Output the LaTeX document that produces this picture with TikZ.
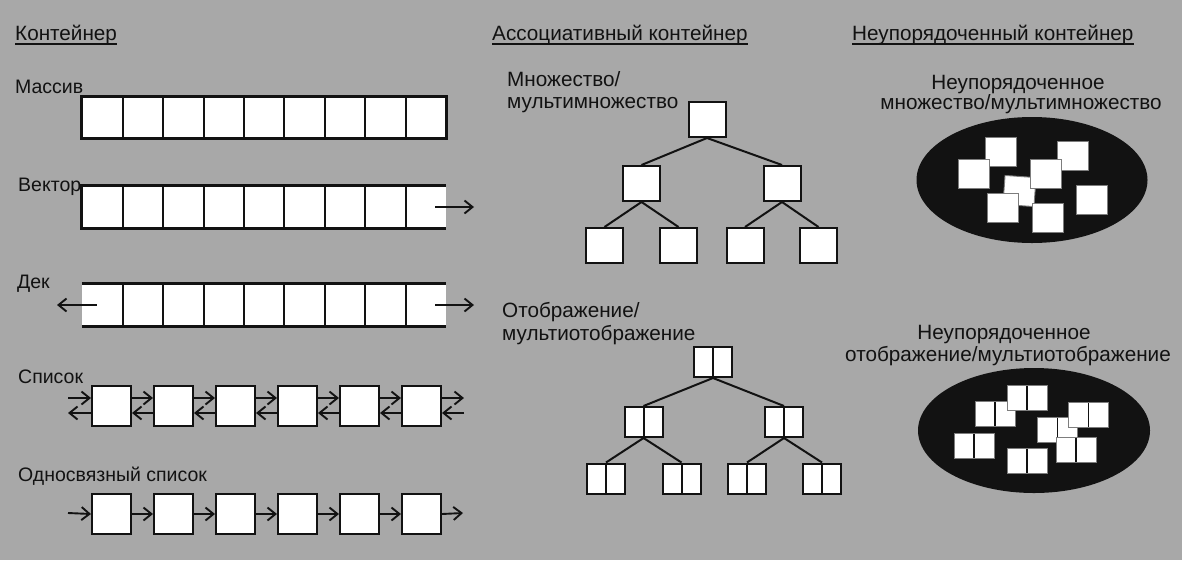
\documentclass[tikz,border=0pt]{standalone}
\usepackage{fontspec}
\setmainfont{Liberation Sans}
\usetikzlibrary{arrows.meta}
\definecolor{bg}{RGB}{168,168,168}
\definecolor{ink}{RGB}{18,18,18}
\tikzset{
  lbl/.style={inner sep=0pt, anchor=base west, text=ink, font=\fontsize{19.5}{22}\selectfont},
  blbl/.style={inner sep=0pt, anchor=base west, text=ink, font=\fontsize{20.7}{24}\selectfont},
  clbl/.style={inner sep=0pt, anchor=base, text=ink, font=\fontsize{20.7}{24}\selectfont},
  ulin/.style={line width=1.5pt, draw=ink},
  cell/.style={fill=white, inner sep=0pt, minimum width=40.44pt, minimum height=41pt},
  thickline/.style={line width=3.2pt, draw=ink},
  thinline/.style={line width=2pt, draw=ink},
  lbox/.style={draw=ink, line width=2pt, fill=white, inner sep=0pt, minimum width=39pt, minimum height=40pt},
  arr/.style={line width=1.9pt, draw=ink, -{Straight Barb[length=8pt,width=13pt]}},
  tbox/.style={draw=ink, line width=2pt, fill=white, inner sep=0pt, minimum width=37pt, minimum height=35pt},
  dbox/.style={draw=ink, line width=2pt, fill=white, inner sep=0pt, minimum width=38pt, minimum height=30pt,
    path picture={\draw[line width=2pt, ink] (path picture bounding box.north) -- (path picture bounding box.south);}},
  edge/.style={line width=2pt, draw=ink},
  usq/.style={draw=ink!55, line width=0.9pt, fill=white, inner sep=0pt, minimum width=31pt, minimum height=29pt},
  dsq/.style={draw=ink!55, line width=0.9pt, fill=white, inner sep=0pt, minimum width=40pt, minimum height=25pt,
    path picture={\draw[line width=1.8pt, ink] (path picture bounding box.north) -- (path picture bounding box.south);}},
}
\begin{document}
\begin{tikzpicture}[x=1pt, y=-1pt]
\useasboundingbox (0,0) rectangle (1182,560);
\fill[bg] (0,0) rectangle (1182,560);

% ---------- headings ----------
\node[blbl] (h1) at (15,40) {Контейнер};
\node[blbl] (h2) at (492,40) {Ассоциативный контейнер};
\node[blbl] (h3) at (852,40) {Неупорядоченный контейнер};
\foreach \h in {h1,h2,h3}
  \draw[ulin] ([yshift=-4pt]\h.base west) -- ([yshift=-4pt]\h.base east);

% ---------- left column labels ----------
\node[lbl] (tmas) at (15,93) {Массив};
\node[lbl] (tvec) at (18,191) {Вектор};
\node[lbl] (tdek) at (17,288) {Дек};
\node[lbl] (tlst) at (18,383) {Список};
\node[lbl] (tslst) at (18,481) {Односвязный список};

% ---------- arrays ----------
\foreach \i in {1,...,9} {
  \node[cell] (a\i) at ({82+40.44*(\i-0.5)},117.5) {};
  \node[cell, minimum height=42pt] (v\i) at ({82+40.44*(\i-0.5)},207) {};
  \node[cell, minimum height=42pt] (d\i) at ({82+40.44*(\i-0.5)},305) {};
}
\foreach \i in {1,...,8} {
  \draw[thinline] (a\i.north east) -- (a\i.south east);
  \draw[thinline] (v\i.north east) -- (v\i.south east);
  \draw[thinline] (d\i.north east) -- (d\i.south east);
}
\draw[thickline] (a1.north west) rectangle (a9.south east);
\draw[thickline] (v9.north east) -- (v1.north west) -- (v1.south west) -- (v9.south east);
\draw[thickline] (d1.north west) -- (d9.north east);
\draw[thickline] (d1.south west) -- (d9.south east);

\coordinate (vout) at (474,207);
\coordinate (dout) at (474,305);
\coordinate (din) at (57,305);
\draw[arr] ([xshift=-11pt]v9.east) -- (vout);
\draw[arr] ([xshift=-11pt]d9.east) -- (dout);
\draw[arr] ([xshift=15pt]d1.west) -- (din);

% ---------- lists ----------
\foreach \i in {1,...,6} {
  \node[lbox] (l\i) at ({111.5+62*(\i-1)},406) {};
  \node[lbox] (o\i) at ({111.5+62*(\i-1)},514) {};
}
\coordinate (lin) at (68,398);
\coordinate (lback) at (68,413);
\coordinate (lout) at (464,398);
\coordinate (lret) at (464,413);
\draw[arr] (lin) -- ([yshift=8pt]l1.west);
\draw[arr] ([yshift=-7pt]l1.west) -- (lback);
\foreach \i [evaluate=\i as \j using int(\i+1)] in {1,...,5} {
  \draw[arr] ([yshift=8pt]l\i.east) -- ([yshift=8pt]l\j.west);
  \draw[arr] ([yshift=-7pt]l\j.west) -- ([yshift=-7pt]l\i.east);
  \draw[arr] (o\i.east) -- (o\j.west);
}
\draw[arr] ([yshift=8pt]l6.east) -- (lout);
\draw[arr] (lret) -- ([yshift=-7pt]l6.east);

\coordinate (oin) at (68,513);
\coordinate (oout) at (463,513);
\draw[arr] (oin) -- (o1.west);
\draw[arr] (o6.east) -- (oout);

% ---------- associative: set tree ----------
\node[blbl] (tset1) at (507,86) {Множество/};
\node[blbl] (tset2) at (507,108) {мультимножество};
\node[tbox] (t0) at (707,119.5) {};
\node[tbox] (t1) at (641.5,183.5) {};
\node[tbox] (t2) at (782,183.5) {};
\node[tbox] (t3) at (604.5,245.5) {};
\node[tbox] (t4) at (678.5,245.5) {};
\node[tbox] (t5) at (745,245.5) {};
\node[tbox] (t6) at (818.5,245.5) {};
\draw[edge] (t0.south) -- (t1.north);
\draw[edge] (t0.south) -- (t2.north);
\draw[edge] (t1.south) -- (t3.north);
\draw[edge] (t1.south) -- (t4.north);
\draw[edge] (t2.south) -- (t5.north);
\draw[edge] (t2.south) -- (t6.north);

% ---------- associative: map tree ----------
\node[blbl] (tmap1) at (502,317) {Отображение/};
\node[blbl] (tmap2) at (502,340) {мультиотображение};
\node[dbox] (m0) at (713,362) {};
\node[dbox] (m1) at (643.5,422) {};
\node[dbox] (m2) at (784,422) {};
\node[dbox] (m3) at (606,478.5) {};
\node[dbox] (m4) at (681.5,478.5) {};
\node[dbox] (m5) at (747,478.5) {};
\node[dbox] (m6) at (822,478.5) {};
\draw[edge] (m0.south) -- (m1.north);
\draw[edge] (m0.south) -- (m2.north);
\draw[edge] (m1.south) -- (m3.north);
\draw[edge] (m1.south) -- (m4.north);
\draw[edge] (m2.south) -- (m5.north);
\draw[edge] (m2.south) -- (m6.north);

% ---------- unordered set ----------
\node[clbl] (tus1) at (1018,89) {Неупорядоченное};
\node[clbl] (tus2) at (1021,109) {множество/мультимножество};
\fill[ink] (1032,180) ellipse [x radius=115.5pt, y radius=63pt];
\node[usq, rotate=-4] (u5) at (1019.5,191) {};
\node[usq] (u1) at (1001,152) {};
\node[usq] (u2) at (1072.5,156) {};
\node[usq] (u3) at (974,173.5) {};
\node[usq] (u4) at (1046,173.5) {};
\node[usq] (u6) at (1002.5,207.5) {};
\node[usq] (u7) at (1047.5,217.5) {};
\node[usq] (u8) at (1092,200) {};

% ---------- unordered map ----------
\node[clbl] (tum1) at (1004,339) {Неупорядоченное};
\node[clbl] (tum2) at (1008,361) {отображение/мультиотображение};
\fill[ink] (1034,430.5) ellipse [x radius=116pt, y radius=62.5pt];
\node[dsq] (w4) at (1057.5,430) {};
\node[dsq] (w1) at (995,414) {};
\node[dsq] (w2) at (1027,397.5) {};
\node[dsq] (w3) at (1088.5,414.5) {};
\node[dsq] (w5) at (1076,449.5) {};
\node[dsq] (w6) at (974,445.5) {};
\node[dsq] (w7) at (1027,460.5) {};
\end{tikzpicture}
\end{document}
